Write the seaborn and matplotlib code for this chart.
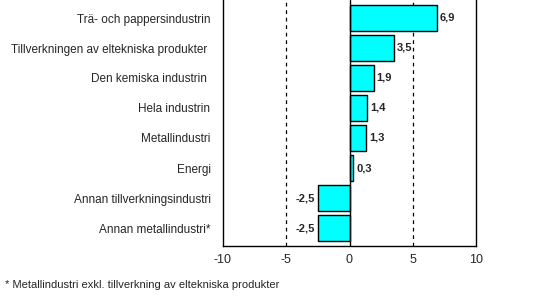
import matplotlib
matplotlib.use("Agg")
import matplotlib.pyplot as plt
import seaborn as sns
import pandas as pd

categories = ["Trä- och pappersindustrin", "Tillverkningen av eltekniska produkter ",
              "Den kemiska industrin ", "Hela industrin", "Metallindustri", "Energi",
              "Annan tillverkningsindustri", "Annan metallindustri*"]
values = [6.9, 3.5, 1.9, 1.4, 1.3, 0.3, -2.5, -2.5]
xticks = [-10, -5, 0, 5, 10]
footnote = "* Metallindustri exkl. tillverkning av eltekniska produkter"

sns.set_style("white")
plt.rcParams['font.family'] = ['Liberation Sans', 'DejaVu Sans']

df = pd.DataFrame({"cat": categories, "val": values})
fig = plt.figure(figsize=(5.33, 2.97), dpi=100)
ax = fig.add_axes([223/533, 1 - 246/297, (476-223)/533, 246/297])

for xv in [-5, 5]:
    ax.axvline(xv, color="black", linestyle=(0, (3, 3)), linewidth=0.9, zorder=0)

sns.barplot(data=df, x="val", y="cat", orient="h", color="#00FFFF",
            edgecolor="black", linewidth=1.0, width=0.85, saturation=1, ax=ax)
ax.axvline(0, color="black", linewidth=1.0, zorder=3)

for i, v in enumerate(values):
    s = f"{v:.1f}".replace(".", ",")
    if v >= 0:
        ax.text(v + 0.25, i, s, ha="left", va="center", fontsize=8, fontweight="bold")
    else:
        ax.text(v - 0.25, i, s, ha="right", va="center", fontsize=8, fontweight="bold")

ax.set_xlim(-10, 10)
ax.set_ylim(7.6, -0.6)
ax.set_xticks(xticks)
ax.set_xticklabels([str(t) for t in xticks])
ax.set_xlabel("")
ax.set_ylabel("")
ax.tick_params(axis="x", labelsize=9, length=0, pad=6)
ax.tick_params(axis="y", labelsize=8.5, length=0, pad=9)
for sp in ax.spines.values():
    sp.set_color("black")
    sp.set_linewidth(1.0)
ax.spines["top"].set_visible(False)

fig.text(5/533, 1 - 290/297, footnote, fontsize=8, ha="left", va="bottom")
fig.savefig("out.png", dpi=100)
